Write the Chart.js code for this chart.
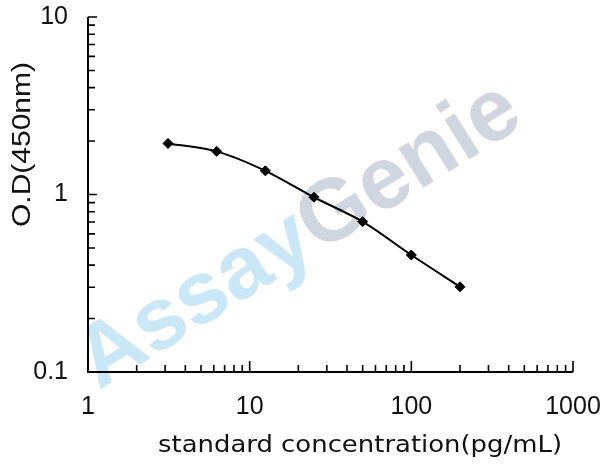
<!DOCTYPE html>
<html>
<head>
<meta charset="utf-8">
<script src="https://cdn.jsdelivr.net/npm/chart.js@4.4.1/dist/chart.umd.min.js"></script>
<style>
  html, body { margin: 0; padding: 0; background: #fff; }
  #wrap { width: 608px; height: 470px; }
</style>
</head>
<body>
<div id="wrap"><canvas id="stdCurve" width="608" height="470"></canvas></div>
<script>
const concentrations = [3.125, 6.25, 12.5, 25, 50, 100, 200];
const odValues = [1.94, 1.75, 1.36, 0.965, 0.703, 0.456, 0.302];
const xTickValues = [1, 10, 100, 1000];
const yTickValues = [0.1, 1, 10];
const xTitle = 'standard concentration(pg/mL)';
const yTitle = 'O.D(450nm)';

// draw text stretched along its run so it fills the given length
function fitText(ctx, text, x, y, len) {
    const w = ctx.measureText(text).width;
    ctx.save();
    ctx.translate(x, y);
    ctx.scale(len / w, 1);
    ctx.fillText(text, 0, 0);
    ctx.restore();
}

function noOverhang(scale) {
    scale.paddingTop = 0;
    scale.paddingBottom = 0;
    scale.paddingLeft = 0;
    scale.paddingRight = 0;
}

// inward ticks, axis lines, titles and the watermark
const axisDecor = {
    id: 'axisDecor',
    beforeDraw(chart) {
        const ctx = chart.ctx;
        ctx.save();
        ctx.translate(86, 370);
        ctx.rotate(-32 * Math.PI / 180);
        ctx.font = 'bold 88px "Liberation Sans", Arial, sans-serif';
        ctx.textBaseline = 'middle';
        ctx.textAlign = 'left';
        ctx.fillStyle = '#cae7f7';
        ctx.fillText('Assay', 0, 0);
        const w = ctx.measureText('Assay').width;
        ctx.fillStyle = '#cfd6df';
        ctx.fillText('Genie', w, 0);
        ctx.restore();
    },
    afterDraw(chart) {
        const ctx = chart.ctx;
        const xs = chart.scales.x;
        const ys = chart.scales.y;
        const left = xs.left, right = xs.right;
        const top = ys.top, bottom = ys.bottom;

        ctx.save();
        ctx.strokeStyle = '#000';
        ctx.lineWidth = 2;
        ctx.beginPath();
        ctx.moveTo(left, top);
        ctx.lineTo(left, bottom);
        ctx.lineTo(right, bottom);
        ctx.stroke();

        ctx.lineWidth = 1.6;
        ctx.beginPath();
        for (let d = 1; d < 1000; d *= 10) {
            for (let m = 2; m <= 10; m++) {
                const px = xs.getPixelForValue(d * m);
                const len = m === 10 ? 11 : 7;
                ctx.moveTo(px, bottom);
                ctx.lineTo(px, bottom - len);
            }
        }
        for (let d = 0.1; d < 9; d *= 10) {
            for (let m = 2; m <= 10; m++) {
                const py = ys.getPixelForValue(d * m);
                const len = m === 10 ? 9 : 7;
                ctx.moveTo(left, py);
                ctx.lineTo(left + len, py);
            }
        }
        ctx.stroke();

        ctx.fillStyle = '#111';
        ctx.textAlign = 'left';
        ctx.textBaseline = 'alphabetic';
        ctx.font = '23px "DejaVu Sans", Tahoma, sans-serif';
        fitText(ctx, xTitle, 158, 452, 404);

        ctx.translate(30, 227);
        ctx.rotate(-Math.PI / 2);
        ctx.font = '26px "Liberation Sans", Arial, sans-serif';
        fitText(ctx, yTitle, 0, 0, 165);
        ctx.restore();
    }
};

const ctx = document.getElementById('stdCurve');
new Chart(ctx, {
    type: 'line',
    data: {
        datasets: [{
            data: concentrations.map((c, i) => ({ x: c, y: odValues[i] })),
            borderColor: '#000',
            backgroundColor: '#000',
            borderWidth: 2,
            tension: 0.3,
            pointStyle: 'rectRot',
            pointRadius: 5,
            pointBorderWidth: 1
        }]
    },
    options: {
        responsive: false,
        animation: false,
        layout: { padding: { left: 0, top: 17, right: 35, bottom: 0 } },
        plugins: {
            legend: { display: false },
            tooltip: { enabled: false }
        },
        scales: {
            x: {
                type: 'logarithmic',
                min: 1,
                max: 1000,
                grid: { display: false, drawTicks: false },
                border: { display: false },
                afterBuildTicks: scale => { scale.ticks = xTickValues.map(v => ({ value: v })); },
                afterFit: scale => { scale.height = 98; noOverhang(scale); },
                ticks: {
                    padding: 20,
                    color: '#111',
                    maxRotation: 0,
                    autoSkip: false,
                    font: { family: '"Liberation Sans", Arial, sans-serif', size: 25 },
                    callback: v => String(v)
                }
            },
            y: {
                type: 'logarithmic',
                min: 0.1,
                max: 10,
                grid: { display: false, drawTicks: false },
                border: { display: false },
                afterBuildTicks: scale => { scale.ticks = yTickValues.map(v => ({ value: v })); },
                afterFit: scale => { scale.width = 88; noOverhang(scale); },
                ticks: {
                    padding: 20,
                    color: '#111',
                    autoSkip: false,
                    font: { family: '"Liberation Sans", Arial, sans-serif', size: 25 },
                    callback: v => String(v)
                }
            }
        }
    },
    plugins: [axisDecor]
});
</script>
</body>
</html>
